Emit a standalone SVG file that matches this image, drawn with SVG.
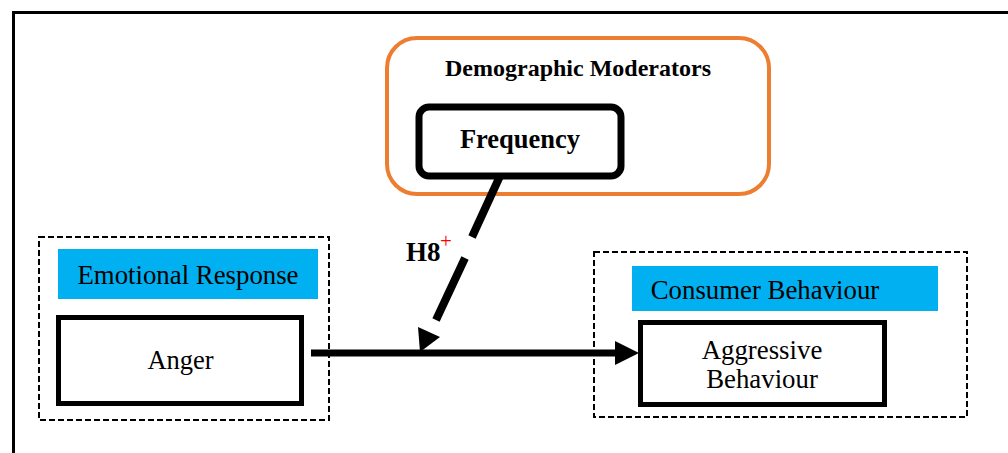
<svg xmlns="http://www.w3.org/2000/svg" width="1008" height="453" viewBox="0 0 1008 453">
<style>
.serif{font-family:"Liberation Serif","Times New Roman",serif;fill:#000}
.dash{fill:none;stroke:#000;stroke-width:2;stroke-dasharray:6,3}
.label{fill:#00b0f0}
.box{fill:#fff;stroke:#000}
</style>
<rect width="1008" height="453" fill="#fff"/>
<path d="M13.5,453 V12.5 H1008" fill="none" stroke="#000" stroke-width="3"/>
<g id="demographic">
<rect x="387" y="38" width="382" height="156" rx="30" fill="#fff" stroke="#ed7d31" stroke-width="4"/>
<text x="578" y="76" text-anchor="middle" class="serif" font-size="24" font-weight="bold">Demographic Moderators</text>
</g>
<g id="frequency">
<rect x="419" y="107" width="202" height="69" rx="10" class="box" stroke-width="7"/>
<text x="520" y="148" text-anchor="middle" class="serif" font-size="26.5" font-weight="bold">Frequency</text>
</g>
<g id="emotional">
<rect x="39" y="237" width="290" height="183" class="dash"/>
<rect x="58" y="249" width="260" height="50" class="label"/>
<text x="188" y="284" text-anchor="middle" class="serif" font-size="26.8">Emotional Response</text>
</g>
<g id="anger">
<rect x="58.5" y="317.5" width="243" height="86" class="box" stroke-width="5"/>
<text x="180.5" y="369" text-anchor="middle" class="serif" font-size="26.5">Anger</text>
</g>
<g id="consumer">
<rect x="594" y="252" width="373" height="165" class="dash"/>
<rect x="632" y="266" width="306" height="45" class="label"/>
<text x="765" y="299" text-anchor="middle" class="serif" font-size="26.8">Consumer Behaviour</text>
</g>
<g id="aggressive">
<rect x="640.5" y="322.5" width="244" height="82" class="box" stroke-width="5"/>
<text x="762" y="359" text-anchor="middle" class="serif" font-size="26.8">Aggressive</text>
<text x="762" y="388" text-anchor="middle" class="serif" font-size="26.8">Behaviour</text>
</g>
<g id="connectors">
<line x1="311" y1="353" x2="619" y2="353" stroke="#000" stroke-width="7"/>
<path d="M615,341 L639,353 L615,365 Z" fill="#000"/>
<line x1="500" y1="176" x2="472" y2="237" stroke="#000" stroke-width="8"/>
<line x1="465" y1="258" x2="436" y2="320" stroke="#000" stroke-width="8"/>
<path d="M418,327 L440,337 L420,352 Z" fill="#000"/>
<g id="h8">
<text x="406" y="261" class="serif" font-size="27" font-weight="bold">H8</text>
<text x="440" y="248" class="serif" font-size="21" style="fill:#ff0000">+</text>
</g>
</g>
</svg>
